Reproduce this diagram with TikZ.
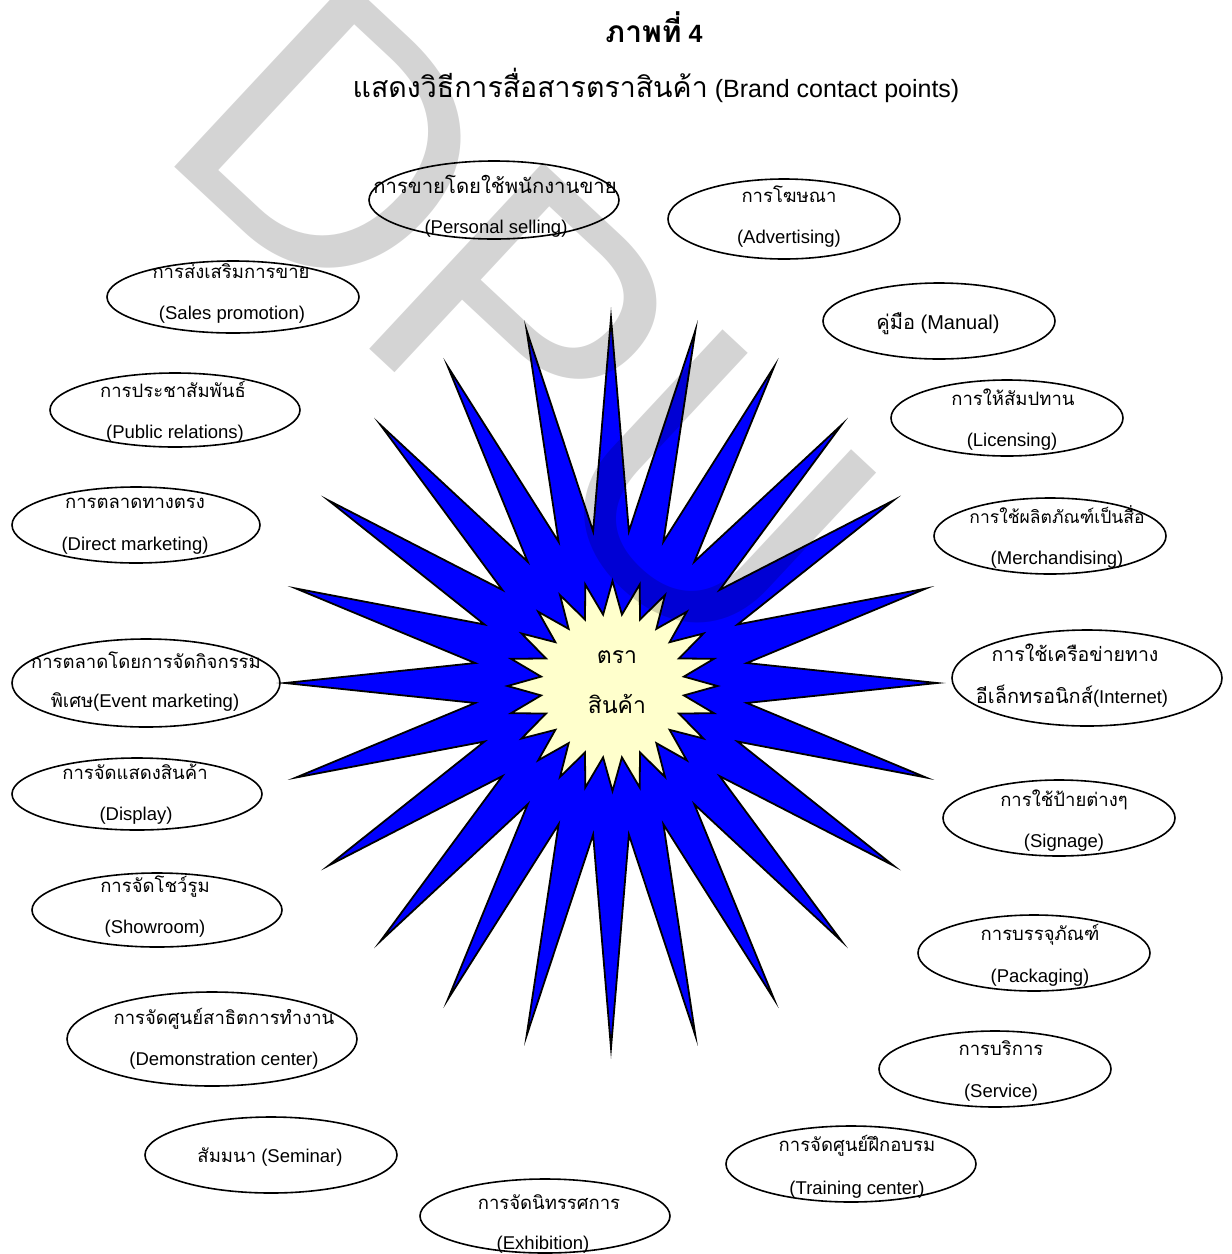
\documentclass[tikz,border=0pt]{standalone}
\usepackage{fontspec}
\setmainfont{Liberation Sans}
\newfontfamily\thaifnt[Script=Thai]{Loma}
\usetikzlibrary{shapes.geometric}
\definecolor{starblue}{RGB}{0,0,255}
\definecolor{cream}{RGB}{255,255,204}
\begin{document}
\begin{tikzpicture}[x=1pt,y=-1pt,
  oval/.style={draw=black, line width=1.6pt, ellipse, inner sep=0pt},
  lat/.style={inner sep=0pt, anchor=base, text=black, font=\fontsize{18.5}{20}\selectfont},
  tha/.style={inner sep=0pt, anchor=base, text=black, font=\fontsize{18.5}{20}\selectfont\thaifnt},
  starline/.style={draw=black, line width=1.8pt, line join=miter, miter limit=30}
]
\useasboundingbox (0,0) rectangle (1232,1254);
\clip (0,0) rectangle (1232,1254);
\fill[white] (0,0) rectangle (1232,1254);

% title
\node[inner sep=0pt, anchor=base, font=\fontsize{25}{30}\selectfont\bfseries] (title) at (654,42) {{\fontsize{30}{30}\selectfont\thaifnt ภาพที่} 4};
\node[inner sep=0pt, anchor=base, font=\fontsize{25}{30}\selectfont] (subtitle) at (656,97) {{\fontsize{28.5}{30}\selectfont\thaifnt แสดงวิธีการสื่อสารตราสินค้า} (Brand contact points)};

% big star
\coordinate (star) at (611,683);
\draw[starline, fill=starblue] (611,318) \foreach \i in {1,...,47}{ -- ({611+(isodd(\i)?137:326)*cos(90+7.5*\i)}, {683-(isodd(\i)?153:365)*sin(90+7.5*\i)}) } -- cycle;
% inner star
\draw[starline, fill=cream] (612.5,581) \foreach \i in {1,...,47}{ -- ({612.5+(isodd(\i)?72:105)*cos(90+7.5*\i)}, {686-(isodd(\i)?72:105)*sin(90+7.5*\i)}) } -- cycle;
\node[tha, font=\fontsize{23}{24}\selectfont\thaifnt] (brand1) at (617,663) {ตรา};
\node[tha, font=\fontsize{23}{24}\selectfont\thaifnt] (brand2) at (617,713) {สินค้า};

% ellipses
\node[oval, minimum width=250pt, minimum height=78pt] (e1) at (494,200) {};
\node[tha, font=\fontsize{20.3}{22}\selectfont\thaifnt] (t1a) at (495,193) {การขายโดยใช้พนักงานขาย};
\node[lat] (t1b) at (496,233) {(Personal selling)};

\node[oval, minimum width=232pt, minimum height=80pt] (e2) at (784,219) {};
\node[tha] (t2a) at (789,202) {การโฆษณา};
\node[lat] (t2b) at (789,243) {(Advertising)};

\node[oval, minimum width=252pt, minimum height=72pt] (e3) at (233,297) {};
\node[tha] (t3a) at (231,278) {การส่งเสริมการขาย};
\node[lat] (t3b) at (232,319) {(Sales promotion)};

\node[oval, minimum width=250pt, minimum height=74pt] (e4) at (175,410) {};
\node[tha] (t4a) at (173,397) {การประชาสัมพันธ์};
\node[lat] (t4b) at (175,438) {(Public relations)};

\node[oval, minimum width=248pt, minimum height=76pt] (e5) at (136,525) {};
\node[tha] (t5a) at (135,508) {การตลาดทางตรง};
\node[lat] (t5b) at (135,550) {(Direct marketing)};

\node[oval, minimum width=268pt, minimum height=88pt] (e6) at (146,683) {};
\node[tha] (t6a) at (146,668) {การตลาดโดยการจัดกิจกรรม};
\node[lat] (t6b) at (145,707) {{\thaifnt พิเศษ}(Event marketing)};

\node[oval, minimum width=250pt, minimum height=72pt] (e7) at (137,794) {};
\node[tha] (t7a) at (135,779) {การจัดแสดงสินค้า};
\node[lat] (t7b) at (136,820) {(Display)};

\node[oval, minimum width=250pt, minimum height=74pt] (e8) at (157,910) {};
\node[tha] (t8a) at (155,892) {การจัดโชว์รูม};
\node[lat] (t8b) at (155,933) {(Showroom)};

\node[oval, minimum width=290pt, minimum height=94pt] (e9) at (212,1039) {};
\node[tha] (t9a) at (224,1024) {การจัดศูนย์สาธิตการทำงาน};
\node[lat] (t9b) at (224,1065) {(Demonstration center)};

\node[oval, minimum width=252pt, minimum height=76pt] (e10) at (271,1155) {};
\node[lat] (t10) at (270,1162) {{\thaifnt สัมมนา} (Seminar)};

\node[oval, minimum width=250pt, minimum height=74pt] (e11) at (545,1216) {};
\node[tha] (t11a) at (549,1209) {การจัดนิทรรศการ};
\node[lat] (t11b) at (543,1249) {(Exhibition)};

\node[oval, minimum width=232pt, minimum height=76pt] (e12) at (939,321) {};
\node[lat, font=\fontsize{20}{22}\selectfont] (t12) at (938,329) {{\thaifnt คู่มือ} (Manual)};

\node[oval, minimum width=232pt, minimum height=76pt] (e13) at (1007,418) {};
\node[tha] (t13a) at (1013,405) {การให้สัมปทาน};
\node[lat] (t13b) at (1012,446) {(Licensing)};

\node[oval, minimum width=232pt, minimum height=76pt] (e14) at (1050,536) {};
\node[tha, font=\fontsize{17.5}{18}\selectfont\thaifnt] (t14a) at (1057,523) {การใช้ผลิตภัณฑ์เป็นสื่อ};
\node[lat] (t14b) at (1057,564) {(Merchandising)};

\node[oval, minimum width=270pt, minimum height=96pt] (e15) at (1087,678) {};
\node[tha, font=\fontsize{19.5}{22}\selectfont\thaifnt] (t15a) at (1075,661) {การใช้เครือข่ายทาง};
\node[lat] (t15b) at (1072,703) {{\fontsize{20}{22}\selectfont\thaifnt อีเล็กทรอนิกส์}(Internet)};

\node[oval, minimum width=232pt, minimum height=76pt] (e16) at (1059,818) {};
\node[tha] (t16a) at (1064,806) {การใช้ป้ายต่างๆ};
\node[lat] (t16b) at (1064,847) {(Signage)};

\node[oval, minimum width=232pt, minimum height=76pt] (e17) at (1034,953) {};
\node[tha] (t17a) at (1040,940) {การบรรจุภัณฑ์};
\node[lat] (t17b) at (1040,982) {(Packaging)};

\node[oval, minimum width=232pt, minimum height=76pt] (e18) at (995,1069) {};
\node[tha] (t18a) at (1001,1055) {การบริการ};
\node[lat] (t18b) at (1001,1097) {(Service)};

\node[oval, minimum width=250pt, minimum height=76pt] (e19) at (851,1164) {};
\node[tha] (t19a) at (857,1151) {การจัดศูนย์ฝึกอบรม};
\node[lat] (t19b) at (857,1194) {(Training center)};

% watermark
\node[anchor=base west, inner sep=0pt, rotate=-43, text=black, text opacity=0.17,
      font=\fontsize{370}{370}\selectfont] (wm) at (152,146) {DPU};
\end{tikzpicture}
\end{document}
